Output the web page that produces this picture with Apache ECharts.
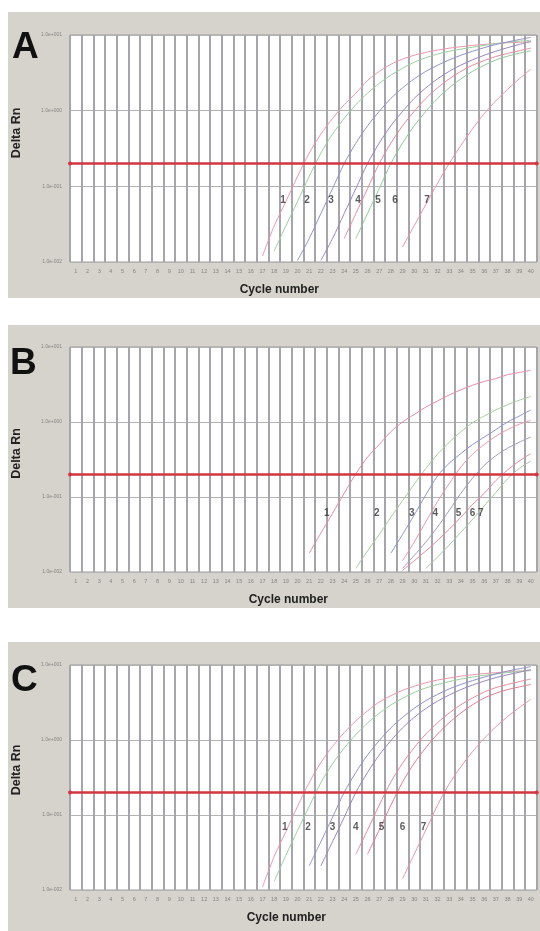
<!DOCTYPE html>
<html><head><meta charset="utf-8">
<script src="https://cdn.jsdelivr.net/npm/echarts@6/dist/echarts.min.js"></script>
<style>html,body{margin:0;padding:0;background:#fff}#c{width:540px;height:931px}</style>
</head><body><div id="c"></div><script>
// ---------- data ----------
const cycleLabels = ['1','2','3','4','5','6','7','8','9','10','11','12','13','14','15','16','17','18','19','20',
  '21','22','23','24','25','26','27','28','29','30','31','32','33','34','35','36','37','38','39','40'];
const yTickLabels = ['1.0e-002','1.0e-001','1.0e+000','1.0e+001'];
const thresholds = [0.2, 0.2, 0.2];
const curveNames = ['1','2','3','4','5','6','7'];

// Panel A (first cycle of each curve, then Delta Rn per cycle up to 40)
const aStart = [17, 18, 20, 22, 24, 25, 29];
const a1 = [0.012,0.030,0.063,0.135,0.275,0.49,0.79,1.20,1.70,2.5,3.3,4.1,4.8,5.4,5.9,6.3,6.7,7.0,7.3,7.5,7.7,7.9,8.0,8.1];
const a2 = [0.014,0.030,0.063,0.135,0.275,0.49,0.79,1.20,1.70,2.29,2.95,3.63,4.37,5.01,5.6,6.1,6.5,6.9,7.3,7.7,8.0,8.3,8.5];
const a3 = [0.0105,0.0204,0.0437,0.0933,0.2,0.372,0.631,0.977,1.45,2.0,2.63,3.31,3.98,4.68,5.4,6.1,6.8,7.5,8.1,8.7,9.3];
const a4 = [0.0105,0.0204,0.0437,0.0933,0.2,0.372,0.631,0.977,1.45,2.0,2.63,3.31,4.0,4.7,5.4,6.1,6.8,7.5,8.2];
const a5 = [0.0204,0.0437,0.0933,0.2,0.372,0.631,0.977,1.45,2.0,2.63,3.31,3.98,4.6,5.2,5.7,6.2,6.7];
const a6 = [0.0204,0.0437,0.0933,0.2,0.372,0.631,0.977,1.45,2.0,2.63,3.31,3.98,4.68,5.25,5.75,6.17];
const a7 = [0.0158,0.0302,0.0575,0.11,0.2,0.347,0.575,0.912,1.35,1.91,2.63,3.55];
const aLabelCycles = [18.76, 20.81, 22.87, 25.19, 26.9, 28.36, 31.1];
const aLabelValue = 0.066;

// Panel B
const bStart = [21, 25, 28, 29, 29, 29, 31];
const b1 = [0.0178,0.0331,0.0603,0.112,0.204,0.339,0.501,0.741,1.0,1.26,1.58,1.91,2.29,2.69,3.09,3.47,3.80,4.27,4.57,4.90];
const b2 = [0.0112,0.0191,0.0316,0.0537,0.0891,0.148,0.24,0.372,0.537,0.741,0.977,1.20,1.45,1.70,1.95,2.19];
const b3 = [0.0178,0.0316,0.0575,0.107,0.191,0.282,0.38,0.50,0.63,0.79,1.0,1.2,1.45];
const b4 = [0.0141,0.0251,0.0468,0.0871,0.151,0.251,0.372,0.501,0.646,0.794,0.933,1.05];
const b5 = [0.0112,0.0166,0.0251,0.0398,0.0661,0.112,0.178,0.263,0.355,0.447,0.537,0.631];
const b6 = [0.0105,0.0141,0.0191,0.0263,0.0372,0.0537,0.0794,0.112,0.166,0.229,0.302,0.38];
const b7 = [0.0112,0.0158,0.0229,0.0339,0.0501,0.0759,0.115,0.174,0.24,0.302];
const bLabelCycles = [22.5, 26.8, 29.8, 31.8, 33.8, 35.0, 35.7];
const bLabelValue = 0.061;

// Panel C
const cStart = [17, 18, 21, 22, 25, 26, 29];
const c1 = [0.011,0.028,0.06,0.13,0.27,0.5,0.82,1.25,1.8,2.45,3.2,3.9,4.6,5.2,5.8,6.3,6.7,7.1,7.4,7.7,7.9,8.1,8.3,8.5];
const c2 = [0.013,0.029,0.062,0.13,0.27,0.48,0.78,1.18,1.68,2.27,2.93,3.6,4.3,4.95,5.5,6.0,6.5,6.9,7.3,7.6,7.9,8.2,8.4];
const c3 = [0.021,0.044,0.093,0.2,0.37,0.63,0.98,1.45,2.0,2.65,3.35,4.05,4.8,5.5,6.2,6.9,7.6,8.3,8.9,9.5];
const c4 = [0.021,0.044,0.093,0.2,0.37,0.63,0.98,1.45,2.0,2.63,3.3,3.98,4.7,5.4,6.1,6.8,7.4,8.0,8.7];
const c5 = [0.03,0.063,0.135,0.275,0.49,0.79,1.2,1.7,2.29,2.95,3.63,4.37,5.0,5.5,6.0,6.5];
const c6 = [0.03,0.063,0.135,0.275,0.49,0.79,1.2,1.7,2.29,2.95,3.63,4.2,4.7,5.1,5.5];
const c7 = [0.0141,0.03,0.063,0.135,0.26,0.44,0.7,1.05,1.5,2.05,2.7,3.5];
const cLabelCycles = [18.9, 20.9, 23.0, 25.0, 27.2, 29.0, 30.8];
const cLabelValue = 0.069;

// ---------- styles / layout ----------
const aColors = ['#e99aac','#9ccf9f','#8f93c9','#9a86c0','#e58c9c','#8fcb9a','#ea98a8'];
const bColors = ['#e58ea4','#a7cf9a','#8e96d0','#e99aaa','#a49ac0','#e28c9c','#a8c8a0'];
const cColors = ['#e99aac','#9ccf9f','#8f93c9','#9a86c0','#e58c9c','#df7f90','#ea98a8'];

const panels = [
  {letter:'A', curves:[a1,a2,a3,a4,a5,a6,a7], starts:aStart, colors:aColors, lc:aLabelCycles, lv:aLabelValue,
   top:35, height:227, bgTop:12, bgH:286, letterTop:29, letterLeft:12, yPad:31, xPad:48},
  {letter:'B', curves:[b1,b2,b3,b4,b5,b6,b7], starts:bStart, colors:bColors, lc:bLabelCycles, lv:bLabelValue,
   top:347, height:225, bgTop:325, bgH:283, letterTop:345, letterLeft:10, yPad:12, xPad:30},
  {letter:'C', curves:[c1,c2,c3,c4,c5,c6,c7], starts:cStart, colors:cColors, lc:cLabelCycles, lv:cLabelValue,
   top:665, height:225, bgTop:642, bgH:289, letterTop:662, letterLeft:11, yPad:15, xPad:34}
];

const FONT = '"Liberation Sans", Arial, sans-serif';
function pad(start, vals) { return new Array(start - 1).fill(null).concat(vals); }

const grid = [], xAxis = [], yAxis = [], series = [], graphic = [];
panels.forEach((p, i) => {
  graphic.push({type:'rect', z:-100, shape:{x:8, y:p.bgTop, width:532, height:p.bgH}, style:{fill:'#d6d2cc'}, silent:true});
  graphic.push({type:'text', z:100, left:p.letterLeft, top:p.letterTop,
    style:{text:p.letter, font:'bold 37px ' + FONT, fill:'#111'}});
  grid.push({left:70, top:p.top, width:466.7, height:p.height, show:true, backgroundColor:'#ffffff',
    borderColor:'#9a9a9a', borderWidth:1});
  xAxis.push({type:'category', gridIndex:i, data:cycleLabels, boundaryGap:true,
    axisLine:{show:false}, axisTick:{show:false},
    axisLabel:{interval:0, fontSize:5.5, color:'#858585', margin:6, fontFamily:FONT},
    splitLine:{show:true, interval:0, lineStyle:{color:'#a5a5ab', width:2}},
    name:'Cycle number', nameLocation:'middle', nameGap:22,
    nameTextStyle:{fontWeight:'bold', fontSize:12, color:'#222', fontFamily:FONT, padding:[0,p.xPad,0,0]}});
  yAxis.push({type:'log', logBase:10, gridIndex:i, min:0.01, max:10,
    axisLine:{show:false}, axisTick:{show:false}, minorTick:{show:false},
    axisLabel:{fontSize:5, color:'#858585', margin:8, fontFamily:FONT,
      formatter: v => yTickLabels[Math.round(Math.log10(v)) + 2]},
    splitLine:{show:true, lineStyle:{color:'#b3b3b3', width:1}},
    name:'Delta Rn', nameLocation:'middle', nameGap:47, nameRotate:90,
    nameTextStyle:{fontWeight:'bold', fontSize:12.5, color:'#222', fontFamily:FONT, padding:[0,0,0,p.yPad]}});
});
// hidden value axes used only to place the curve number labels
panels.forEach((p, i) => {
  xAxis.push({type:'value', gridIndex:i, min:0, max:40, show:false});
});

panels.forEach((p, i) => {
  p.curves.forEach((vals, k) => {
    const s = {type:'line', name:p.letter + curveNames[k], xAxisIndex:i, yAxisIndex:i,
      data:pad(p.starts[k], vals), symbol:'none', smooth:0.3, silent:true,
      lineStyle:{width:1, color:p.colors[k]}, itemStyle:{color:p.colors[k]}, z:3};
    if (k === 0) {
      s.markLine = {silent:true, symbol:['circle','circle'], symbolSize:4, label:{show:false},
        lineStyle:{color:'#d23641', width:2.5, type:'solid'},
        data:[{yAxis:thresholds[i]}], z:4};
    }
    series.push(s);
  });
  series.push({type:'scatter', xAxisIndex:3 + i, yAxisIndex:i, symbolSize:1, silent:true, z:6,
    itemStyle:{color:'rgba(0,0,0,0)'},
    data:p.lc.map((c, k) => [c - 0.5, p.lv, curveNames[k]]),
    label:{show:true, position:'inside', formatter: d => d.data[2], fontSize:10, fontWeight:'bold',
      color:'#333', fontFamily:FONT}});
});

const chart = echarts.init(document.getElementById('c'));
chart.setOption({animation:false, backgroundColor:'#ffffff', grid, xAxis, yAxis, series, graphic});
</script></body></html>
